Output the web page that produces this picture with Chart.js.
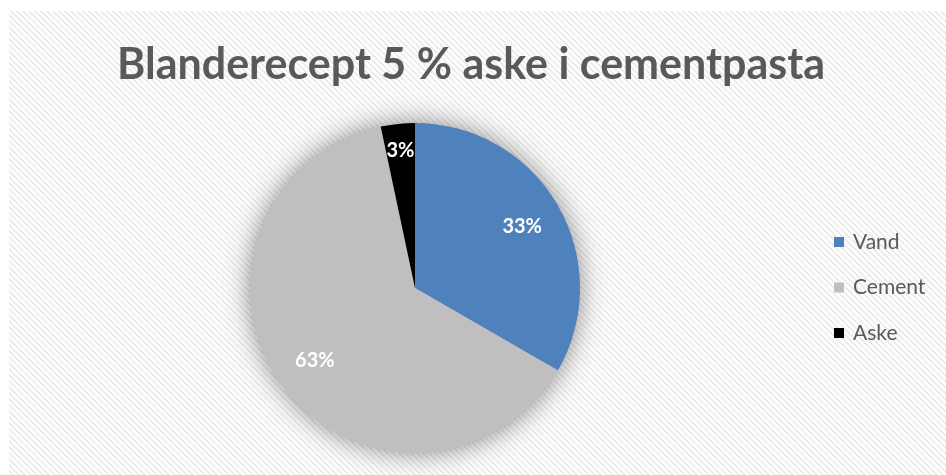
<!DOCTYPE html>
<html>
<head>
<meta charset="utf-8">
<script src="https://cdn.jsdelivr.net/npm/chart.js@4/dist/chart.umd.min.js"></script>
<style>
  html, body { margin: 0; padding: 0; background: #ffffff; }
  #wrap { width: 946px; height: 475px; position: relative; }
</style>
</head>
<body>
<div id="wrap"><canvas id="mixChart"></canvas></div>
<script>
const titleText = "Blanderecept 5 % aske i cementpasta";
const components = ["Vand", "Cement", "Aske"];
const amounts = [500, 950, 50];
const sliceColors = ["#4F81BD", "#BFBFBF", "#000000"];

const FONT = "Lato, 'Open Sans', sans-serif";
const TEXT_GREY = "#595959";

// light diagonal stripes behind the whole chart
function makeStripes() {
  const c = document.createElement("canvas");
  c.width = 6;
  c.height = 6;
  const g = c.getContext("2d");
  g.fillStyle = "#ffffff";
  g.fillRect(0, 0, 6, 6);
  g.strokeStyle = "#ececec";
  g.lineWidth = 2;
  g.beginPath();
  g.moveTo(-1, -1); g.lineTo(7, 7);
  g.moveTo(-7, -1); g.lineTo(1, 7);
  g.moveTo(5, -1); g.lineTo(13, 7);
  g.stroke();
  return c;
}

const backdrop = {
  id: "backdrop",
  beforeDraw(chart) {
    const ctx = chart.ctx;
    ctx.save();
    ctx.fillStyle = "#ffffff";
    ctx.fillRect(0, 0, chart.width, chart.height);
    ctx.fillStyle = ctx.createPattern(makeStripes(), "repeat");
    ctx.fillRect(9, 11, chart.width - 9, chart.height - 11);
    ctx.restore();
  }
};

// title across the full width
const wideTitle = {
  id: "wideTitle",
  afterDraw(chart) {
    const ctx = chart.ctx;
    ctx.save();
    ctx.font = "bold 43px " + FONT;
    ctx.fillStyle = TEXT_GREY;
    ctx.textAlign = "center";
    ctx.textBaseline = "alphabetic";
    ctx.fillText(titleText, 471, 79);
    ctx.restore();
  }
};

// soft shadow under the pie
const pieShadow = {
  id: "pieShadow",
  beforeDatasetsDraw(chart) {
    const arc = chart.getDatasetMeta(0).data[0];
    if (!arc) return;
    const ctx = chart.ctx;
    ctx.save();
    ctx.shadowColor = "rgba(0,0,0,0.45)";
    ctx.shadowBlur = 26;
    ctx.fillStyle = "#bfbfbf";
    ctx.beginPath();
    ctx.arc(arc.x, arc.y, arc.outerRadius, 0, Math.PI * 2);
    ctx.fill();
    ctx.restore();
  }
};

// percentage labels inside each slice
const sliceLabels = {
  id: "sliceLabels",
  afterDatasetsDraw(chart) {
    const ctx = chart.ctx;
    const vals = chart.data.datasets[0].data;
    const total = vals.reduce((a, b) => a + b, 0);
    ctx.save();
    ctx.font = "bold 20px " + FONT;
    ctx.fillStyle = "#ffffff";
    ctx.textAlign = "center";
    ctx.textBaseline = "middle";
    chart.getDatasetMeta(0).data.forEach((arc, i) => {
      const span = arc.endAngle - arc.startAngle;
      const mid = (arc.startAngle + arc.endAngle) / 2;
      const r = arc.outerRadius * (span < 0.4 ? 0.84 : 0.75);
      const pct = Math.round(vals[i] / total * 100) + "%";
      ctx.fillText(pct, arc.x + Math.cos(mid) * r, arc.y + Math.sin(mid) * r);
    });
    ctx.restore();
  }
};

// legend on the right side
const sideLegend = {
  id: "sideLegend",
  afterDraw(chart) {
    const ctx = chart.ctx;
    const colors = chart.data.datasets[0].backgroundColor;
    ctx.save();
    ctx.font = "21px " + FONT;
    ctx.textBaseline = "middle";
    chart.data.labels.forEach((lab, i) => {
      const y = 242 + i * 45.5;
      ctx.fillStyle = colors[i];
      ctx.fillRect(834, y - 5, 10, 10);
      ctx.fillStyle = TEXT_GREY;
      ctx.fillText(lab, 853, y);
    });
    ctx.restore();
  }
};

const ctx = document.getElementById("mixChart").getContext("2d");

new Chart(ctx, {
  type: "pie",
  data: {
    labels: components,
    datasets: [{
      data: amounts,
      backgroundColor: sliceColors,
      borderWidth: 0
    }]
  },
  options: {
    responsive: true,
    maintainAspectRatio: false,
    animation: false,
    layout: { padding: { left: 250, right: 366, top: 123, bottom: 22 } },
    plugins: {
      legend: { display: false },
      tooltip: { enabled: false },
      title: { display: false }
    }
  },
  plugins: [backdrop, pieShadow, sliceLabels, sideLegend, wideTitle]
});
</script>
</body>
</html>
